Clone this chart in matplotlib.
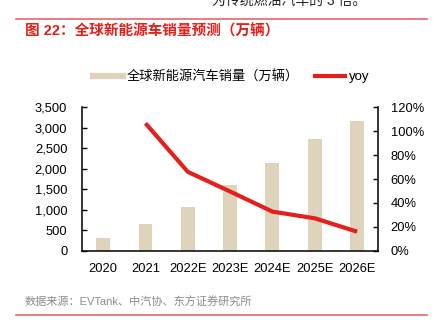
import numpy as np
import matplotlib
matplotlib.use("Agg")
import matplotlib.pyplot as plt
from matplotlib.lines import Line2D

plt.rcParams['font.family'] = ['Liberation Sans', 'Noto Sans CJK SC', 'DejaVu Sans']

# data
years = ['2020', '2021', '2022E', '2023E', '2024E', '2025E', '2026E']
sales = [310, 650, 1070, 1600, 2140, 2720, 3160]      # 万辆
yoy_years = years[1:]
yoy = [106.6, 66.0, 49.5, 32.7, 27.1, 15.9]           # %

bar_color = '#DED4BC'
red = '#E3201B'

fig = plt.figure(figsize=(4.37, 3.22), dpi=100)
W, H = 437, 322

# header / footer decorations (top line of body text is cut off in the source too)
fig.text(212 / W, 1 - 1 / H, '为传统燃油汽车的 3 倍。', fontsize=10, color='#222222',
         va='center', ha='left')
fig.add_artist(Line2D([16 / W, 427 / W], [1 - 18.5 / H] * 2, color='#E46A6A', lw=1.2))
fig.text(25 / W, 1 - 31.5 / H, '图 22：全球新能源车销量预测（万辆）', fontsize=10.5,
         color=red, fontweight='bold', va='center', ha='left')
fig.text(25 / W, 1 - 302 / H, '数据来源：EVTank、中汽协、东方证券研究所', fontsize=8,
         color='#8C8C8C', va='center', ha='left')
fig.add_artist(Line2D([16 / W, 427 / W], [1 - 315 / H] * 2, color='#E46A6A', lw=1.2))

ax = fig.add_axes([82 / W, 1 - 250.7 / H, (378.3 - 82) / W, (250.7 - 107.3) / H])
x = np.arange(len(years))
ax.bar(x, sales, width=0.33, color=bar_color, zorder=2)
ax.set_xlim(-0.5, len(years) - 0.5)
ax.set_ylim(0, 3500)
ax.set_yticks(np.arange(0, 3501, 500))
ax.set_yticklabels([f'{v:,}' for v in range(0, 3501, 500)])
ax.set_xticks(x)
ax.set_xticklabels(years)
ax.tick_params(axis='y', direction='in', length=3.5, width=1, pad=10.5, labelsize=9.3)
ax.tick_params(axis='x', length=0, pad=8.5, labelsize=9.3)
ax.spines['top'].set_visible(False)
ax.spines['right'].set_visible(False)
for s in ('left', 'bottom'):
    ax.spines[s].set_linewidth(1.1)

ax2 = ax.twinx()
xi = [years.index(y) for y in yoy_years]
ax2.plot(xi, yoy, color=red, lw=3, solid_capstyle='butt', zorder=3)
ax2.set_ylim(0, 120)
ax2.set_yticks(np.arange(0, 121, 20))
ax2.set_yticklabels([f'{v}%' for v in range(0, 121, 20)])
ax2.tick_params(axis='y', direction='in', length=3.5, width=1, pad=9, labelsize=9.3)
ax2.spines['top'].set_visible(False)
ax2.spines['left'].set_visible(False)
ax2.spines['bottom'].set_visible(False)
ax2.spines['right'].set_linewidth(1.1)

handles = [Line2D([0], [0], color=bar_color, lw=4.5),
           Line2D([0], [0], color=red, lw=3)]
labels = ['全球新能源汽车销量（万辆）', 'yoy']
fig.legend(handles, labels, loc='center left', bbox_to_anchor=(92.7 / W, 1 - 76.7 / H),
           ncol=2, frameon=False, fontsize=9.5, handlelength=2.3, handletextpad=0.25,
           columnspacing=1.25, borderpad=0, borderaxespad=0)

fig.savefig('out.png', dpi=100)
